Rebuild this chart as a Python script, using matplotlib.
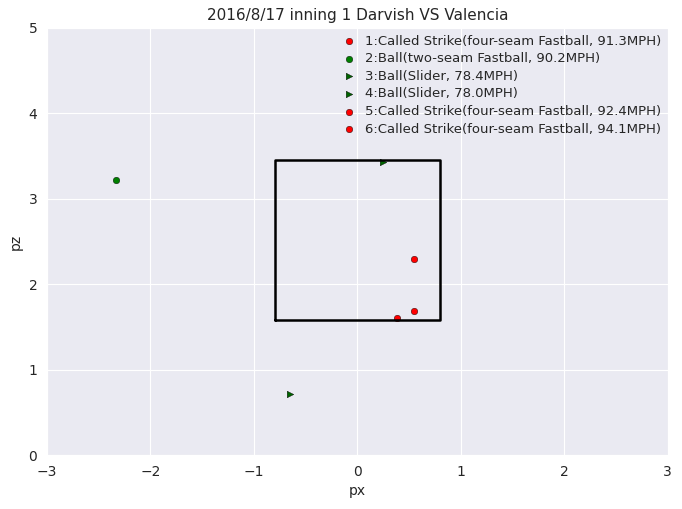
import matplotlib
matplotlib.use("Agg")
import matplotlib.pyplot as plt
import seaborn as sns

sns.set_style("darkgrid")
plt.rcParams['font.family'] = ['DejaVu Sans']

labels = ['1:Called Strike(four-seam Fastball, 91.3MPH)',
          '2:Ball(two-seam Fastball, 90.2MPH)',
          '3:Ball(Slider, 78.4MPH)',
          '4:Ball(Slider, 78.0MPH)',
          '5:Called Strike(four-seam Fastball, 92.4MPH)',
          '6:Called Strike(four-seam Fastball, 94.1MPH)']
px = [0.55, -2.33, 0.25, -0.65, 0.38, 0.55]
pz = [2.29, 3.22, 3.43, 0.71, 1.61, 1.69]
colors = ['red', 'green', 'darkgreen', 'darkgreen', 'red', 'red']
markers = ['o', 'o', '>', '>', 'o', 'o']

zone_x = [-0.8, 0.8]
zone_z = [1.58, 3.45]

fig, ax = plt.subplots(figsize=(6.82, 5.09), dpi=100)
for x, z, c, m, l in zip(px, pz, colors, markers, labels):
    ax.scatter(x, z, c=c, marker=m, s=22, label=l, edgecolors='k', linewidths=0.3)

ax.plot([zone_x[0], zone_x[1], zone_x[1], zone_x[0], zone_x[0]],
        [zone_z[0], zone_z[0], zone_z[1], zone_z[1], zone_z[0]], color='black', lw=1.8)

ax.set_xlim(-3, 3)
ax.set_ylim(0, 5)
ax.set_xlabel('px')
ax.set_ylabel('pz')
ax.set_title('2016/8/17 inning 1 Darvish VS Valencia', fontsize=11)
ax.legend(loc='upper right', frameon=False, fontsize=9.5, handletextpad=0.2,
          borderaxespad=0.1, labelspacing=0.35)
fig.subplots_adjust(left=0.069, right=0.979, top=0.945, bottom=0.106)
plt.savefig('out.png')
